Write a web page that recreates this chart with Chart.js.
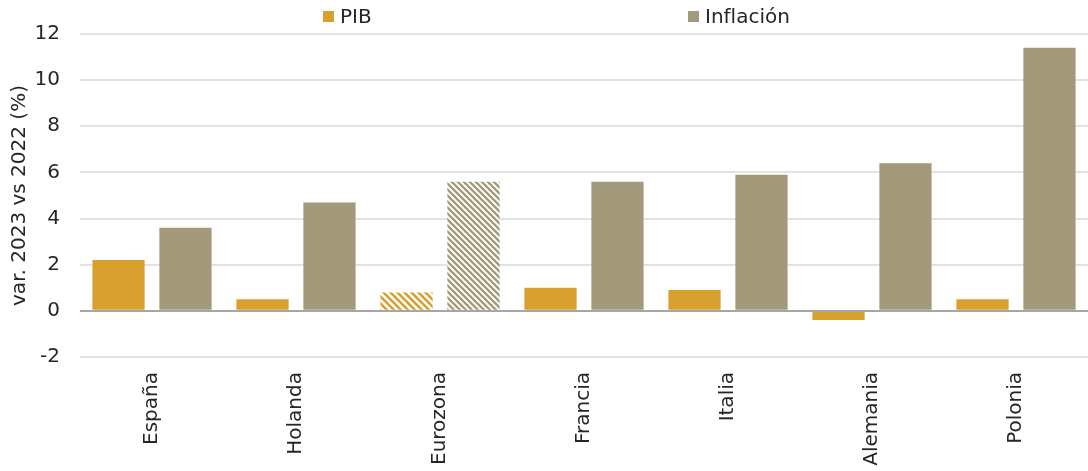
<!DOCTYPE html>
<html lang="es">
<head>
<meta charset="utf-8">
<title>PIB e inflación 2023 vs 2022</title>
<script src="https://cdn.jsdelivr.net/npm/chart.js@4.4.1/dist/chart.umd.min.js"></script>
<style>
    html, body { margin: 0; padding: 0; background: #fff; }
    .chart-wrap { position: relative; width: 1088px; height: 471px; }
    .legend-pk {
        position: absolute; top: 4px; left: 323px;
        display: grid; grid-template-columns: 365px auto;
        font: 20px 'DejaVu Sans', sans-serif; color: #262626;
    }
    .legend-pk-item { display: flex; align-items: center; gap: 6px; }
    .legend-pk-box  { width: 11px; height: 11px; }
</style>
</head>
<body>
<div class="chart-wrap">
    <canvas id="gdpChart" width="1088" height="471"></canvas>
    <div class="legend-pk" id="gdpLegend"></div>
</div>
<script>
// ── Dades ────────────────────────────────────────────────────
const categories      = ['España', 'Holanda', 'Eurozona', 'Francia', 'Italia', 'Alemania', 'Polonia'];
const pibValues       = [2.2, 0.5, 0.8, 1.0, 0.9, -0.4, 0.5];
const inflacionValues = [3.6, 4.7, 5.6, 5.6, 5.9, 6.4, 11.4];
const yTicks          = [-2, 0, 2, 4, 6, 8, 10, 12];
const hatchedCategory = 'Eurozona';

const colorPib       = '#D8A02E';
const colorInflacion = '#A29A7B';
const colorText      = '#262626';
const colorGrid      = '#E3E3E3';
const colorZero      = '#A6A6A6';

document.addEventListener('DOMContentLoaded', () => {
    const chart = renderChart(document.getElementById('gdpChart'));
    renderLegend(chart);
});

// ── Patró ratllat per a l'Eurozona ───────────────────────────

function makeHatch(color, size, width) {
    const c   = document.createElement('canvas');
    c.width   = size;
    c.height  = size;
    const ctx = c.getContext('2d');
    ctx.fillStyle = '#fff';
    ctx.fillRect(0, 0, size, size);
    ctx.strokeStyle = color;
    ctx.lineWidth   = width;
    ctx.beginPath();
    ctx.moveTo(-size, 0);         ctx.lineTo(size * 2, size * 3);
    ctx.moveTo(-size, -size);     ctx.lineTo(size * 2, size * 2);
    ctx.moveTo(0, -size);         ctx.lineTo(size * 2, size);
    ctx.moveTo(-size * 2, -size); ctx.lineTo(size, size * 2);
    ctx.stroke();
    return c.getContext('2d').createPattern(c, 'repeat');
}

function barColor(base, hatch) {
    return ctx => categories[ctx.dataIndex] === hatchedCategory ? hatch : base;
}

// Línia del zero per sobre de les barres
const zeroLinePlugin = {
    id: 'zeroLine',
    afterDatasetsDraw(chart) {
        const { ctx, chartArea, scales } = chart;
        const y = Math.round(scales.y.getPixelForValue(0));
        ctx.save();
        ctx.strokeStyle = colorZero;
        ctx.lineWidth   = 2;
        ctx.beginPath();
        ctx.moveTo(chartArea.left, y);
        ctx.lineTo(chartArea.right, y);
        ctx.stroke();
        ctx.restore();
    },
};

// ── Gràfic ───────────────────────────────────────────────────

function renderChart(canvas) {
    Chart.defaults.font.family = "'DejaVu Sans', sans-serif";
    Chart.defaults.font.size   = 20;
    Chart.defaults.color       = colorText;

    const hatchPib       = makeHatch(colorPib, 7, 2.6);
    const hatchInflacion = makeHatch(colorInflacion, 6, 2.3);

    return new Chart(canvas, {
        type: 'bar',
        data: {
            labels: categories,
            datasets: [
                {
                    label: 'PIB',
                    data: pibValues,
                    backgroundColor: barColor(colorPib, hatchPib),
                    legendColor: colorPib,
                },
                {
                    label: 'Inflación',
                    data: inflacionValues,
                    backgroundColor: barColor(colorInflacion, hatchInflacion),
                    legendColor: colorInflacion,
                },
            ],
        },
        plugins: [zeroLinePlugin],
        options: {
            responsive: false,
            animation: false,
            devicePixelRatio: 1,
            categoryPercentage: 0.93,
            barPercentage: 0.78,
            layout: { padding: { top: 34, right: 0, bottom: 0, left: 0 } },
            plugins: {
                legend: { display: false },
                tooltip: { enabled: false },
            },
            scales: {
                x: {
                    grid:   { display: false, drawTicks: false },
                    border: { display: false },
                    ticks:  { minRotation: 90, maxRotation: 90, padding: 15, color: colorText },
                    afterFit: scale => { scale.height = 114; },
                },
                y: {
                    min: yTicks[0],
                    max: yTicks[yTicks.length - 1],
                    ticks: {
                        stepSize: yTicks[1] - yTicks[0],
                        padding: 20,
                        color: colorText,
                    },
                    grid: {
                        drawTicks: false,
                        lineWidth: 2,
                        color: ctx => ctx.tick && ctx.tick.value === 0 ? colorZero : colorGrid,
                    },
                    border: { display: false },
                    title: {
                        display: true,
                        text: 'var. 2023 vs 2022 (%)',
                        color: colorText,
                        padding: { top: 8, bottom: 0 },
                    },
                    afterFit: scale => { scale.width = 80; },
                },
            },
        },
    });
}

// ── Llegenda HTML ────────────────────────────────────────────

function renderLegend(chart) {
    const container = document.getElementById('gdpLegend');
    chart.data.datasets.forEach(ds => {
        const item = document.createElement('div');
        item.className = 'legend-pk-item';
        item.innerHTML = `
            <span class="legend-pk-box" style="background:${ds.legendColor}"></span>
            <span>${ds.label}</span>
        `;
        container.appendChild(item);
    });
}
</script>
</body>
</html>
